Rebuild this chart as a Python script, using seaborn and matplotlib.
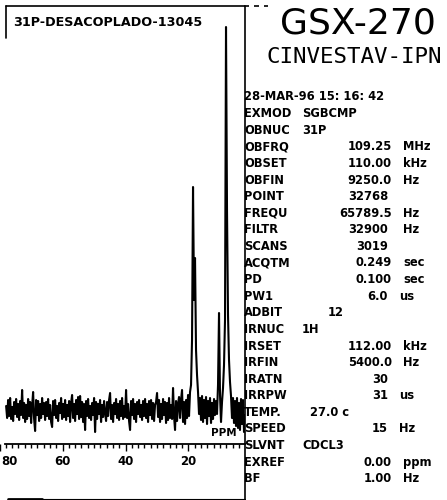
import numpy as np
import pandas as pd
import matplotlib
matplotlib.use("Agg")
import matplotlib.pyplot as plt
import matplotlib.transforms as mtransforms
from matplotlib.lines import Line2D
from matplotlib.ticker import MultipleLocator
import seaborn as sns

# ---- spectrum data -------------------------------------------------------
title = "31P-DESACOPLADO-13045"
ppm_first, ppm_last = 77.9, 2.06          # chemical-shift span of the trace
intensity = [
    4, -8, 10, -6, 12, -9, 3, -11, 8, -4, 11, -7, 6, -10, 9, -5, 20, -8, 7, -12,
    5, -9, 11, -6, 8, -13, 4, 18, -9, -21, 10, -5, 9, -11, 6, -8, 12, -4, 7, -10,
    8, -6, 11, -9, 5, -12, -17, 9, -5, 10, -8, 4, -11, 7, -3, 12, -9, 6, -7, 10,
    -10, 5, -6, 9, -12, 7, 15, -8, 6, -11, 10, -4, 13, -9, 14, -7, 8, -12, 6, -20,
    9, -6, 11, -8, 4, -10, 7, -5, 12, -22, 8, -9, 6, -4, 10, -12, 5, -7, 9, -3,
    -11, 8, -6, 10, 17, -9, 5, -12, 7, -4, 11, -8, 6, -10, 9, -6, 12, -9, 4, -7,
    20, -8, 6, -11, -20, 9, -5, 11, -9, 6, -12, 8, -4, 10, -7, 5, -10, 9, -6, 11,
    -8, 6, -12, 9, -5, 10, -9, 7, -11, 5, 8, 17, -7, 10, -12, 6, -9, 11, -5, 8,
    -13, 7, -10, 12, -8, 5, -9, 22, -6, -20, 9, -11, 6, 13, -8, 10, 20, -12, 8, -14,
    10, -8, 15,
    -6, 18, 25, 70, 223, 110, 152, 60, 35, 18, -4, 12, -10, 14, -12, 10, -8, 13, -14, 9,
    -6, 12, -13, 7, -9, 11, -5, 9, -4, 25, 97, 15, -12, 8, 22, 45, 90, 383, 200, 95,
    50, 28, 14, -8, 12, -13, 9, -16, 12, -18, 7, -20, 11, -14, 10, -22, -5,
]
tick_values = [80, 60, 40, 20]
tick_labels = ["80", "60", "40", "20"]

# ---- acquisition parameter listing ---------------------------------------
timestamp = "28-MAR-96 15: 16: 42"
param_labels = ["EXMOD", "OBNUC", "OBFRQ", "OBSET", "OBFIN", "POINT", "FREQU",
                "FILTR", "SCANS", "ACQTM", "PD", "PW1", "ADBIT", "IRNUC",
                "IRSET", "IRFIN", "IRATN", "IRRPW", "TEMP.", "SPEED", "SLVNT",
                "EXREF", "BF"]
param_values = ["SGBCMP", "31P", "109.25", "110.00", "9250.0", "32768",
                "65789.5", "32900", "3019", "0.249", "0.100", "6.0", "12", "1H",
                "112.00", "5400.0", "30", "31", "27.0 c", "15", "CDCL3",
                "0.00", "1.00"]
param_units = ["", "", "MHz", "kHz", "Hz", "", "Hz", "Hz", "", "sec", "sec",
               "us", "", "", "kHz", "Hz", "", "us", "", "Hz", "", "ppm", "Hz"]

# ---- figure geometry (pixel helpers) -------------------------------------
W, H = 447, 500
DPI = 100


def fx(px):
    return px / W


def fy(py):
    return 1 - py / H


sns.set_style("white")
plt.rcParams["font.family"] = ["DejaVu Sans", "DejaVu Sans Mono"]
plt.rcParams["text.color"] = "black"
plt.rcParams["xtick.color"] = "black"
plt.rcParams["xtick.labelcolor"] = "black"

fig = plt.figure(figsize=(W / DPI, H / DPI), dpi=DPI)
fig.patch.set_facecolor("white")

ax_left, ax_right, ax_top, ax_bottom = -2, 245, 6, 444
ax = fig.add_axes([fx(ax_left), fy(ax_bottom),
                   fx(ax_right) - fx(ax_left), fy(ax_top) - fy(ax_bottom)])
ax.set_facecolor("none")

spec = pd.DataFrame({
    "ppm": np.linspace(ppm_first, ppm_last, len(intensity)),
    "intensity": intensity,
})
sns.lineplot(data=spec, x="ppm", y="intensity", color="black",
             linewidth=1.5, estimator=None, sort=False, ax=ax)

ax.set_xlim(80.48, 2.06)
ax.set_ylim(-34, 404)
ax.set_xlabel("")
ax.set_ylabel("")
ax.set_yticks([])
for side in ("top", "left", "right"):
    ax.spines[side].set_visible(False)
ax.spines["bottom"].set_linewidth(1.3)
ax.spines["bottom"].set_color("black")
ax.spines["bottom"].set_bounds(78.4, 2.06)

ax.set_xticks(tick_values)
ax.set_xticklabels(tick_labels)
ax.xaxis.set_minor_locator(MultipleLocator(2))
ax.tick_params(axis="x", which="major", direction="out", length=5,
               width=1.0, color="black", pad=3, labelsize=8.5)
ax.tick_params(axis="x", which="minor", direction="out", length=3.2,
               width=1.0, color="black")
for lab in ax.get_xticklabels():
    lab.set_fontweight("bold")
ax.tick_params(axis="x", bottom=True, which="both")

# the leftmost label sits on the page edge: anchor it by its left side
first = ax.get_xticklabels()[0]
first.set_horizontalalignment("left")
first.set_transform(first.get_transform() +
                    mtransforms.ScaledTranslation(1.5 / DPI, 0,
                                                  fig.dpi_scale_trans))

ax.text(0.968, 0.014, "PPM", transform=ax.transAxes, ha="right", va="bottom",
        fontsize=7.5, fontweight="bold", family="DejaVu Sans")

# ---- frame lines of the plot page ----------------------------------------
def seg(x0, y0, x1, y1, lw=1.2, ls="-"):
    fig.add_artist(Line2D([fx(x0), fx(x1)], [fy(y0), fy(y1)],
                          transform=fig.transFigure, color="black",
                          linewidth=lw, linestyle=ls))


seg(6, 6, 244, 6)                 # top edge
seg(244, 6, 268, 6, ls=(0, (3, 3)))
seg(6, 6, 6, 38)                  # short left edge
seg(244.5, 6, 244.5, 500)         # right edge
seg(8, 498.5, 42, 498.5, lw=2.0)  # bottom edge
seg(42, 498.5, 244.5, 498.5, lw=0.8)

# ---- header texts --------------------------------------------------------
fig.text(fx(13), fy(23), title, ha="left", va="center", fontsize=9.2,
         fontweight="bold", family="DejaVu Sans")
fig.text(fx(358), fy(24), "GSX-270", ha="center", va="center", fontsize=26,
         family="DejaVu Sans")
fig.text(fx(266), fy(57), "CINVESTAV-IPN", ha="left", va="center",
         fontsize=16.2, family="DejaVu Sans Mono")

# ---- parameter listing ---------------------------------------------------
row0, row_step = 97, 16.6
text_kw = dict(fontsize=8.3, fontweight="bold", family="DejaVu Sans",
               va="center")
fig.text(fx(244), fy(row0), timestamp, ha="left", **text_kw)

left_value_x = {"EXMOD": 302, "OBNUC": 302, "IRNUC": 302, "SLVNT": 302,
                "ADBIT": 328, "TEMP.": 310}
short_right = {"POINT", "FILTR", "SCANS", "PW1", "IRATN", "IRRPW", "SPEED"}
short_unit = {"PW1", "IRRPW", "SPEED"}

for i, (lab, val, unit) in enumerate(zip(param_labels, param_values,
                                         param_units)):
    y = fy(row0 + (i + 1) * row_step)
    fig.text(fx(244), y, lab, ha="left", **text_kw)
    if lab in left_value_x:
        fig.text(fx(left_value_x[lab]), y, val, ha="left", **text_kw)
    else:
        xr = 388 if lab in short_right else 392
        fig.text(fx(xr), y, val, ha="right", **text_kw)
    if unit:
        xu = 399 if lab in short_unit else 403
        fig.text(fx(xu), y, unit, ha="left", **text_kw)

fig.savefig("out.png", dpi=DPI, facecolor="white")
